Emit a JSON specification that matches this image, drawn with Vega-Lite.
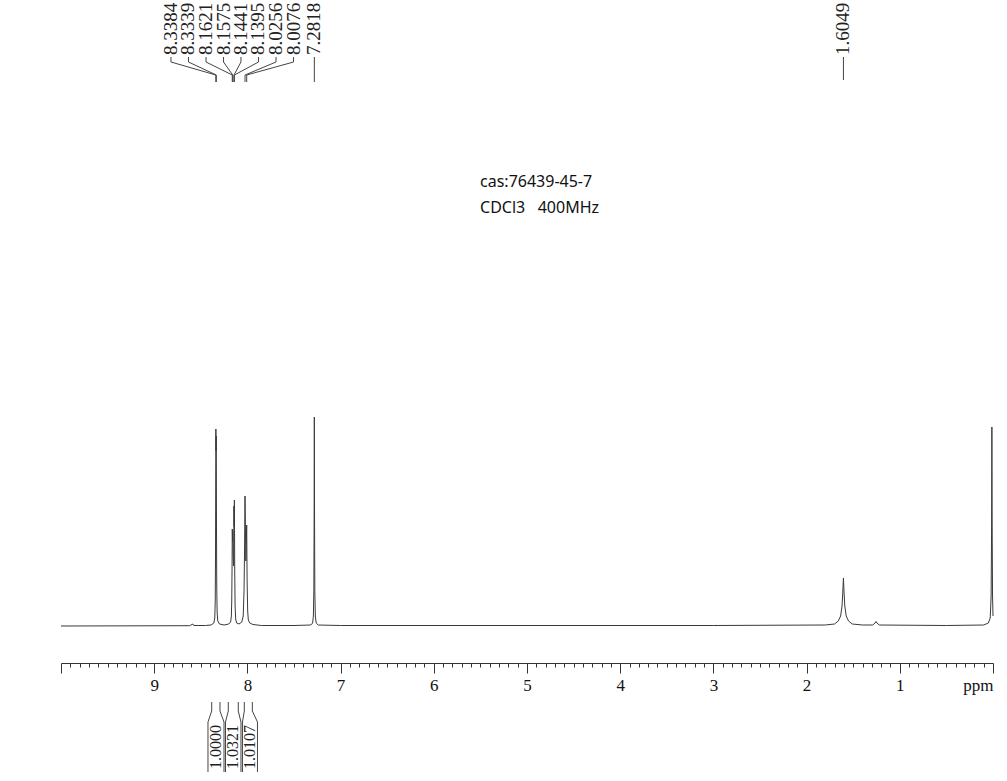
{
  "$schema": "https://vega.github.io/schema/vega-lite/v6.json",
  "width": 932,
  "height": 781,
  "autosize": "none",
  "padding": {"left": 61, "top": 0, "right": 14, "bottom": 0},
  "background": "white",
  "config": {"view": {"stroke": null}},
  "datasets": {
    "spectrum": [
      {"ppm": 10.0, "v": 0}, {"ppm": 8.62, "v": 0.3}, {"ppm": 8.585, "v": 2}, {"ppm": 8.575, "v": 0.5},
      {"ppm": 8.45, "v": 0.5}, {"ppm": 8.39, "v": 1}, {"ppm": 8.36, "v": 3}, {"ppm": 8.35, "v": 8},
      {"ppm": 8.345, "v": 25}, {"ppm": 8.342, "v": 70}, {"ppm": 8.3395, "v": 160}, {"ppm": 8.3384, "v": 197},
      {"ppm": 8.3365, "v": 175}, {"ppm": 8.3339, "v": 190}, {"ppm": 8.332, "v": 110}, {"ppm": 8.329, "v": 40},
      {"ppm": 8.325, "v": 14}, {"ppm": 8.318, "v": 5}, {"ppm": 8.3, "v": 2}, {"ppm": 8.25, "v": 1},
      {"ppm": 8.2, "v": 2}, {"ppm": 8.18, "v": 4}, {"ppm": 8.172, "v": 10}, {"ppm": 8.168, "v": 25},
      {"ppm": 8.1645, "v": 60}, {"ppm": 8.1621, "v": 97}, {"ppm": 8.1598, "v": 85}, {"ppm": 8.1575, "v": 95},
      {"ppm": 8.1535, "v": 70}, {"ppm": 8.148, "v": 60}, {"ppm": 8.1441, "v": 120}, {"ppm": 8.1418, "v": 100},
      {"ppm": 8.1395, "v": 126}, {"ppm": 8.136, "v": 55}, {"ppm": 8.132, "v": 20}, {"ppm": 8.126, "v": 7},
      {"ppm": 8.115, "v": 3}, {"ppm": 8.09, "v": 2}, {"ppm": 8.06, "v": 4}, {"ppm": 8.045, "v": 10},
      {"ppm": 8.036, "v": 35}, {"ppm": 8.03, "v": 80}, {"ppm": 8.0256, "v": 130}, {"ppm": 8.0166, "v": 65},
      {"ppm": 8.0076, "v": 101}, {"ppm": 8.003, "v": 45}, {"ppm": 7.997, "v": 15}, {"ppm": 7.99, "v": 6},
      {"ppm": 7.975, "v": 3}, {"ppm": 7.94, "v": 1.5}, {"ppm": 7.85, "v": 0.5}, {"ppm": 7.5, "v": 0.5},
      {"ppm": 7.32, "v": 1}, {"ppm": 7.3, "v": 3}, {"ppm": 7.292, "v": 10}, {"ppm": 7.287, "v": 35},
      {"ppm": 7.284, "v": 110}, {"ppm": 7.2818, "v": 209}, {"ppm": 7.2796, "v": 110}, {"ppm": 7.2766, "v": 35},
      {"ppm": 7.271, "v": 10}, {"ppm": 7.262, "v": 3}, {"ppm": 7.24, "v": 1}, {"ppm": 7.0, "v": 0.5},
      {"ppm": 5.0, "v": 0.5}, {"ppm": 3.0, "v": 0.5}, {"ppm": 1.8, "v": 1}, {"ppm": 1.7, "v": 2},
      {"ppm": 1.66, "v": 5}, {"ppm": 1.635, "v": 10}, {"ppm": 1.62, "v": 20}, {"ppm": 1.612, "v": 33},
      {"ppm": 1.6049, "v": 48}, {"ppm": 1.598, "v": 33}, {"ppm": 1.59, "v": 20}, {"ppm": 1.575, "v": 10},
      {"ppm": 1.55, "v": 5}, {"ppm": 1.51, "v": 2}, {"ppm": 1.4, "v": 1}, {"ppm": 1.29, "v": 1},
      {"ppm": 1.265, "v": 3}, {"ppm": 1.255, "v": 4.5}, {"ppm": 1.245, "v": 3}, {"ppm": 1.22, "v": 1},
      {"ppm": 0.5, "v": 0.5}, {"ppm": 0.1, "v": 1}, {"ppm": 0.05, "v": 3}, {"ppm": 0.03, "v": 8},
      {"ppm": 0.02, "v": 30}, {"ppm": 0.015, "v": 100}, {"ppm": 0.012, "v": 199}, {"ppm": 0.009, "v": 100},
      {"ppm": 0.005, "v": 30}, {"ppm": 0.0, "v": 10}
    ],
    "peaklabels": [
      {"ppm": 8.820, "v": 571, "label": "8.3384"},
      {"ppm": 8.632, "v": 571, "label": "8.3339"},
      {"ppm": 8.444, "v": 571, "label": "8.1621"},
      {"ppm": 8.256, "v": 571, "label": "8.1575"},
      {"ppm": 8.069, "v": 571, "label": "8.1441"},
      {"ppm": 7.881, "v": 571, "label": "8.1395"},
      {"ppm": 7.693, "v": 571, "label": "8.0256"},
      {"ppm": 7.505, "v": 571, "label": "8.0076"},
      {"ppm": 7.2818, "v": 571, "label": "7.2818"},
      {"ppm": 1.6049, "v": 571, "label": "1.6049"}
    ],
    "connectors": [
      {"g": "a", "o": 1, "ppm": 8.820, "v": 569}, {"g": "a", "o": 2, "ppm": 8.820, "v": 564}, {"g": "a", "o": 3, "ppm": 8.3384, "v": 551}, {"g": "a", "o": 4, "ppm": 8.3384, "v": 544},
      {"g": "b", "o": 1, "ppm": 8.632, "v": 569}, {"g": "b", "o": 2, "ppm": 8.632, "v": 564}, {"g": "b", "o": 3, "ppm": 8.3339, "v": 551}, {"g": "b", "o": 4, "ppm": 8.3339, "v": 544},
      {"g": "c", "o": 1, "ppm": 8.444, "v": 569}, {"g": "c", "o": 2, "ppm": 8.444, "v": 564}, {"g": "c", "o": 3, "ppm": 8.1621, "v": 551}, {"g": "c", "o": 4, "ppm": 8.1621, "v": 544},
      {"g": "d", "o": 1, "ppm": 8.256, "v": 569}, {"g": "d", "o": 2, "ppm": 8.256, "v": 564}, {"g": "d", "o": 3, "ppm": 8.1575, "v": 551}, {"g": "d", "o": 4, "ppm": 8.1575, "v": 544},
      {"g": "e", "o": 1, "ppm": 8.069, "v": 569}, {"g": "e", "o": 2, "ppm": 8.069, "v": 564}, {"g": "e", "o": 3, "ppm": 8.1441, "v": 551}, {"g": "e", "o": 4, "ppm": 8.1441, "v": 544},
      {"g": "f", "o": 1, "ppm": 7.881, "v": 569}, {"g": "f", "o": 2, "ppm": 7.881, "v": 564}, {"g": "f", "o": 3, "ppm": 8.1395, "v": 551}, {"g": "f", "o": 4, "ppm": 8.1395, "v": 544},
      {"g": "h", "o": 1, "ppm": 7.693, "v": 569}, {"g": "h", "o": 2, "ppm": 7.693, "v": 564}, {"g": "h", "o": 3, "ppm": 8.0256, "v": 551}, {"g": "h", "o": 4, "ppm": 8.0256, "v": 544},
      {"g": "i", "o": 1, "ppm": 7.505, "v": 569}, {"g": "i", "o": 2, "ppm": 7.505, "v": 564}, {"g": "i", "o": 3, "ppm": 8.0076, "v": 551}, {"g": "i", "o": 4, "ppm": 8.0076, "v": 544},
      {"g": "j", "o": 1, "ppm": 7.2818, "v": 569}, {"g": "j", "o": 2, "ppm": 7.2818, "v": 544},
      {"g": "k", "o": 1, "ppm": 1.6049, "v": 569}, {"g": "k", "o": 2, "ppm": 1.6049, "v": 546}
    ],
    "intlines": [
      {"g": "1L", "o": 1, "ppm": 8.383, "v": -76}, {"g": "1L", "o": 2, "ppm": 8.383, "v": -85}, {"g": "1L", "o": 3, "ppm": 8.423, "v": -96}, {"g": "1L", "o": 4, "ppm": 8.423, "v": -146},
      {"g": "1R", "o": 1, "ppm": 8.294, "v": -76}, {"g": "1R", "o": 2, "ppm": 8.294, "v": -85}, {"g": "1R", "o": 3, "ppm": 8.251, "v": -96}, {"g": "1R", "o": 4, "ppm": 8.251, "v": -146},
      {"g": "2L", "o": 1, "ppm": 8.205, "v": -76}, {"g": "2L", "o": 2, "ppm": 8.205, "v": -85}, {"g": "2L", "o": 3, "ppm": 8.235, "v": -96}, {"g": "2L", "o": 4, "ppm": 8.235, "v": -146},
      {"g": "2R", "o": 1, "ppm": 8.098, "v": -76}, {"g": "2R", "o": 2, "ppm": 8.098, "v": -85}, {"g": "2R", "o": 3, "ppm": 8.069, "v": -96}, {"g": "2R", "o": 4, "ppm": 8.069, "v": -146},
      {"g": "3L", "o": 1, "ppm": 8.033, "v": -76}, {"g": "3L", "o": 2, "ppm": 8.033, "v": -85}, {"g": "3L", "o": 3, "ppm": 8.053, "v": -96}, {"g": "3L", "o": 4, "ppm": 8.053, "v": -146},
      {"g": "3R", "o": 1, "ppm": 7.947, "v": -76}, {"g": "3R", "o": 2, "ppm": 7.947, "v": -85}, {"g": "3R", "o": 3, "ppm": 7.892, "v": -96}, {"g": "3R", "o": 4, "ppm": 7.892, "v": -146}
    ],
    "intlabels": [
      {"ppm": 8.337, "v": -143, "label": "1.0000"},
      {"ppm": 8.152, "v": -143, "label": "1.0321"},
      {"ppm": 7.972, "v": -143, "label": "1.0107"}
    ],
    "notes": [
      {"ppm": 5.504, "v": 439, "label": "cas:76439-45-7"},
      {"ppm": 5.504, "v": 413, "label": "CDCl3\u00a0\u00a0\u00a0400MHz"}
    ]
  },
  "layer": [
    {
      "data": {"name": "spectrum"},
      "mark": {"type": "line", "color": "#3a3a3a", "strokeWidth": 1, "clip": false},
      "encoding": {
        "x": {
          "field": "ppm", "type": "quantitative",
          "scale": {"domain": [0, 10], "reverse": true, "nice": false, "zero": false},
          "axis": {
            "title": null, "grid": false, "orient": "bottom", "offset": -118, "tickCount": 500,
            "values": [0,0.1,0.2,0.3,0.4,0.5,0.6,0.7,0.8,0.9,1,1.1,1.2,1.3,1.4,1.5,1.6,1.7,1.8,1.9,2,2.1,2.2,2.3,2.4,2.5,2.6,2.7,2.8,2.9,3,3.1,3.2,3.3,3.4,3.5,3.6,3.7,3.8,3.9,4,4.1,4.2,4.3,4.4,4.5,4.6,4.7,4.8,4.9,5,5.1,5.2,5.3,5.4,5.5,5.6,5.7,5.8,5.9,6,6.1,6.2,6.3,6.4,6.5,6.6,6.7,6.8,6.9,7,7.1,7.2,7.3,7.4,7.5,7.6,7.7,7.8,7.9,8,8.1,8.2,8.3,8.4,8.5,8.6,8.7,8.8,8.9,9,9.1,9.2,9.3,9.4,9.5,9.6,9.7,9.8,9.9,10],
            "labelExpr": "datum.value < 0.001 ? 'ppm' : ((abs(datum.value - round(datum.value)) < 0.001 && datum.value < 9.5) ? format(datum.value, 'd') : '')",
            "tickSize": {"condition": {"test": "abs(datum.value - round(datum.value)) < 0.001", "value": 10}, "value": 4},
            "labelAlign": {"condition": {"test": "datum.value < 0.001", "value": "right"}, "value": "center"},
            "domainColor": "#333", "tickColor": "#333", "domainWidth": 1, "tickWidth": 1,
            "labelFont": "Liberation Serif", "labelFontSize": 17, "labelColor": "#111",
            "labelPadding": 4, "labelOverlap": false, "labelFlush": false, "labelBound": false
          }
        },
        "y": {"field": "v", "type": "quantitative", "scale": {"domain": [-155, 626], "nice": false, "zero": false}, "axis": null}
      }
    },
    {
      "data": {"name": "connectors"},
      "mark": {"type": "line", "color": "#444", "strokeWidth": 1, "clip": false},
      "encoding": {
        "x": {"field": "ppm", "type": "quantitative"},
        "y": {"field": "v", "type": "quantitative"},
        "detail": {"field": "g"},
        "order": {"field": "o", "type": "quantitative"}
      }
    },
    {
      "data": {"name": "peaklabels"},
      "mark": {"type": "text", "angle": 270, "align": "left", "baseline": "middle", "font": "Liberation Serif", "fontSize": 19, "color": "#222"},
      "encoding": {
        "x": {"field": "ppm", "type": "quantitative"},
        "y": {"field": "v", "type": "quantitative"},
        "text": {"field": "label"}
      }
    },
    {
      "data": {"name": "intlines"},
      "mark": {"type": "line", "color": "#444", "strokeWidth": 1, "clip": false},
      "encoding": {
        "x": {"field": "ppm", "type": "quantitative"},
        "y": {"field": "v", "type": "quantitative"},
        "detail": {"field": "g"},
        "order": {"field": "o", "type": "quantitative"}
      }
    },
    {
      "data": {"name": "intlabels"},
      "mark": {"type": "text", "angle": 270, "align": "left", "baseline": "middle", "font": "Liberation Serif", "fontSize": 16, "color": "#222"},
      "encoding": {
        "x": {"field": "ppm", "type": "quantitative"},
        "y": {"field": "v", "type": "quantitative"},
        "text": {"field": "label"}
      }
    },
    {
      "data": {"name": "notes"},
      "mark": {"type": "text", "align": "left", "baseline": "alphabetic", "font": "Noto Sans", "fontSize": 16, "color": "#111"},
      "encoding": {
        "x": {"field": "ppm", "type": "quantitative"},
        "y": {"field": "v", "type": "quantitative"},
        "text": {"field": "label"}
      }
    }
  ]
}
